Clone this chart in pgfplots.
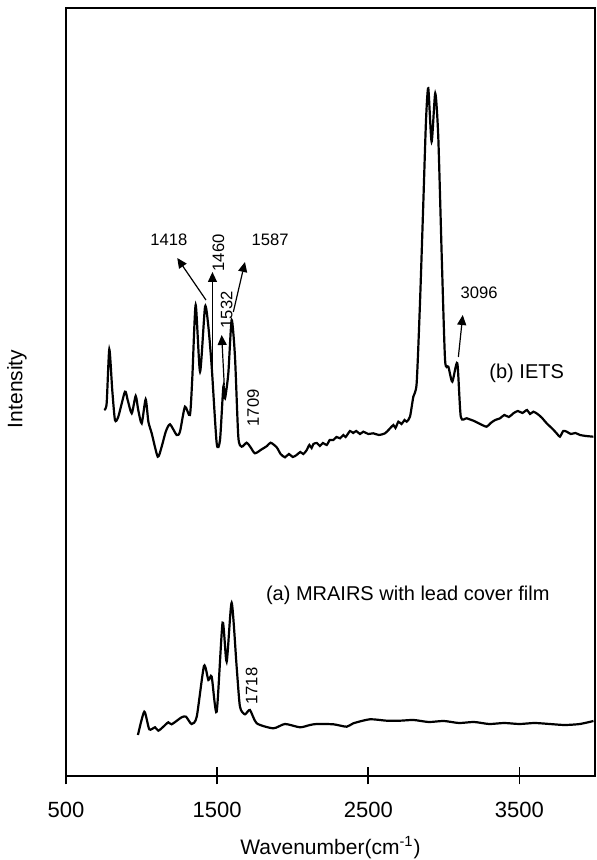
\documentclass[border=0pt]{standalone}
\usepackage{fontspec}
\setmainfont{Liberation Sans}
\usepackage{pgfplots}
\pgfplotsset{compat=1.18}
\usetikzlibrary{arrows.meta}

\newcommand{\annfont}{\fontsize{8.3}{10}\selectfont}

\begin{document}
\begin{tikzpicture}
\useasboundingbox (-33pt,-42pt) rectangle (265pt,388pt);
\begin{axis}[
	scale only axis,
	width=264.5pt,
	height=384pt,
	xmin=500, xmax=4000,
	ymin=0, ymax=768,
	xtick={500,1500,2500,3500},
	ytick=\empty,
	xtick pos=bottom,
	tick align=center,
	major tick length=8.5pt,
	axis line style={line width=0.9pt},
	every tick/.style={black, line width=0.8pt},
	/pgf/number format/assume math mode=true,
	/pgf/number format/1000 sep={},
	xticklabel style={font=\fontsize{11}{13}\selectfont, yshift=-5.5pt},
	xlabel={Wavenumber(cm\textsuperscript{-1})},
	xlabel style={at={(axis description cs:0.5,0)}, anchor=base, yshift=-39pt, font=\fontsize{10.5}{12}\selectfont},
	ylabel={Intensity},
	ylabel style={at={(axis description cs:0,0.504)}, anchor=center, yshift=24.5pt, font=\fontsize{10.5}{12}\selectfont},
]

% (b) IETS
\addplot[black, line width=1.1pt, smooth, tension=0.4] coordinates {
	(753,366) (769,372.7) (786.5,426.7) (806,386) (824,356) (846,359.3)
	(890,384.3) (908,376) (935,362.7) (961,380) (978,366) (1001,352.7)
	(1027,376.7) (1045,354.3) (1067,342.7) (1107,319.3) (1133,329.3)
	(1160,344.3) (1188,351.7) (1232,341) (1254,344.3) (1287,369.3)
	(1320,361) (1336,399.3) (1358,471) (1387,404.3) (1420,469.3)
	(1442,449.3) (1464,409.3) (1497,332.7) (1519,336) (1541,389.3)
	(1552,377.7) (1574,402.7) (1596,456) (1618,419.3) (1640,339.3)
	(1662,329.3) (1695,333.3) (1720,329) (1750,322.7) (1795,326.7)
	(1830,330) (1854,333.3) (1894,328.7) (1920,322) (1949,318.7)
	(1975,322) (2000,319) (2026,321) (2050,324) (2070,322) (2093,326)
	(2110,331) (2125,328) (2137,332) (2160,333) (2180,330) (2200,333)
	(2225,331) (2245,336) (2269,336) (2290,339) (2313,337.7) (2335,341)
	(2350,339) (2379,345) (2400,343) (2420,345) (2445,342) (2467,344.3)
	(2500,342) (2533,342.7) (2570,341) (2611,342.7) (2640,347) (2666,351)
	(2680,348) (2699,354.3) (2720,352) (2740,356) (2754,354.3) (2776,359.3)
	(2798,379.3) (2820,392.7) (2842,472.7) (2864,572.7) (2882,656)
	(2897,687.7) (2919,634.3) (2943,682.7) (2963,639.3) (2986,519.3)
	(3008,416) (3030,409.3) (3056,394.3) (3089,412.7) (3112,359.3)
	(3151,357.7) (3200,355) (3240,352) (3283,349.3) (3310,353) (3340,356)
	(3372,357.7) (3400,361) (3430,359) (3460,362.7) (3490,365) (3520,363)
	(3550,366) (3570,362) (3592,364.3) (3620,362) (3650,358) (3680,352.7)
	(3720,347) (3750,342) (3768,339.3) (3790,345) (3813,344.3) (3840,342)
	(3870,343) (3901,341) (3940,340) (3989,339.3)
};

% (a) MRAIRS
\addplot[black, line width=1.1pt, smooth, tension=0.4] coordinates {
	(976,41) (1018,64.3) (1051,46.7) (1089,48.7) (1111,45.3) (1144,49.3)
	(1177,53.7) (1199,51.7) (1265,58.7) (1294,59.3) (1331,52) (1365,59.3)
	(1413,110) (1442,96) (1464,99.3) (1497,64.3) (1536,153.3) (1563,114.3)
	(1596,173.3) (1629,109.3) (1651,69.3) (1684,61.7) (1717,66) (1762,52.7)
	(1872,47.7) (1949,52) (2048,48.7) (2114,51) (2159,52) (2269,51.7)
	(2357,49.3) (2401,52.7) (2511,56.7) (2622,55.3) (2710,55.3) (2800,56)
	(2900,54) (3000,55) (3100,53) (3200,54) (3300,52) (3400,53) (3500,52)
	(3600,53) (3700,52) (3800,51) (3900,52) (3990,55)
};

% peak labels
\node[font=\annfont] at (axis cs:1181,536) {1418};
\node[font=\annfont, rotate=90] at (axis cs:1508,523) {1460};
\node[font=\annfont, rotate=90] at (axis cs:1563,466) {1532};
\node[font=\annfont] at (axis cs:1850,536) {1587};
\node[font=\annfont, rotate=90] at (axis cs:1739,368) {1709};
\node[font=\annfont] at (axis cs:3233,483) {3096};
\node[font=\annfont, rotate=90] at (axis cs:1729,90) {1718};
\node[font=\fontsize{10}{12}\selectfont] at (axis cs:3548,403) {(b) IETS};
\node[font=\fontsize{10}{12}\selectfont, anchor=west] at (axis cs:1777,181) {(a) MRAIRS with lead cover film};

% arrows
\begin{scope}[line width=0.6pt, -{Triangle[length=5pt,width=4.5pt]}]
\draw (axis cs:1426,476) -- (axis cs:1236,518);
\draw (axis cs:1469,391) -- (axis cs:1469,504);
\draw (axis cs:1547,391) -- (axis cs:1530,441);
\draw (axis cs:1607,464) -- (axis cs:1684,514);
\draw (axis cs:3096,419) -- (axis cs:3125,461);
\end{scope}

\end{axis}
\end{tikzpicture}
\end{document}
